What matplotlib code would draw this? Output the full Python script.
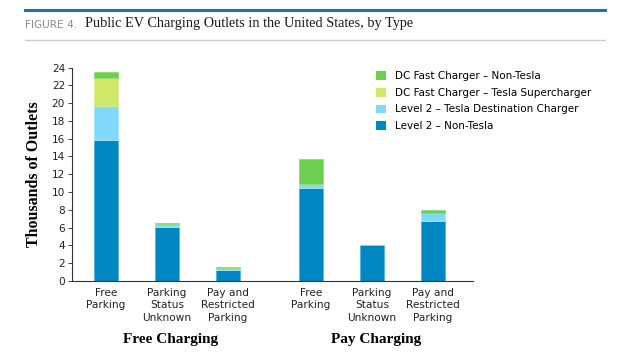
import matplotlib
matplotlib.use("Agg")
import matplotlib.pyplot as plt
import numpy as np

categories = ["Free\nParking", "Parking\nStatus\nUnknown", "Pay and\nRestricted\nParking",
              "Free\nParking", "Parking\nStatus\nUnknown", "Pay and\nRestricted\nParking"]
groups = ["Free Charging", "Pay Charging"]
level2_non_tesla = [15.8, 6.1, 1.2, 10.4, 4.0, 6.7]
level2_tesla_dest = [3.9, 0.3, 0.25, 0.5, 0.0, 1.0]
dc_tesla_super = [3.1, 0.0, 0.0, 0.0, 0.0, 0.0]
dc_non_tesla = [0.7, 0.1, 0.1, 2.8, 0.1, 0.3]
series_names = ["Level 2 – Non-Tesla", "Level 2 – Tesla Destination Charger",
                "DC Fast Charger – Tesla Supercharger", "DC Fast Charger – Non-Tesla"]
series = [level2_non_tesla, level2_tesla_dest, dc_tesla_super, dc_non_tesla]
colors = ["#0086c0", "#80d8fa", "#cfe868", "#6ccf4f"]
edges = ["#4fb6e0", "#a8e6fc", "#dcef90", "#8fdc78"]
yticks = list(range(0, 25, 2))

SANS = "DejaVu Sans"
SERIF = "Liberation Serif"

fig = plt.figure(figsize=(6.2, 3.57), dpi=100)
ax = fig.add_axes([72/620, 1-281/357, (473-72)/620, (281-67.5)/357])

x = np.array([0, 1, 2, 3.36, 4.36, 5.36])
bottom = np.zeros(len(x))
handles = []
for vals, c, e, name in zip(series, colors, edges, series_names):
    b = ax.bar(x, vals, width=0.39, bottom=bottom, color=c, edgecolor=e, linewidth=0.6, label=name)
    handles.append(b)
    bottom += np.array(vals)

ax.set_xlim(-0.56, 6.02)
ax.set_ylim(0, 24)
ax.set_yticks(yticks)
ax.set_xticks(x)
ax.set_xticklabels(categories, fontsize=7.6, family=SANS, color="#222222", linespacing=1.3)
ax.tick_params(axis="x", length=0, pad=5)
ax.tick_params(axis="y", length=3, width=0.6, labelsize=7.6, pad=2, colors="#222222")
for lbl in ax.get_yticklabels():
    lbl.set_family(SANS)
for s in ["top", "right"]:
    ax.spines[s].set_visible(False)
for s in ["left", "bottom"]:
    ax.spines[s].set_linewidth(0.8)
    ax.spines[s].set_color("#333333")

ax.set_ylabel("Thousands of Outlets", family=SERIF, fontweight="bold", fontsize=11.5, labelpad=7)

leg = fig.legend(handles[::-1], [h.get_label() for h in handles[::-1]],
                 loc="upper left", bbox_to_anchor=(372/620, 1-67/357), frameon=False,
                 prop={"family": SANS, "size": 7.5}, handlelength=0.9, handleheight=0.9,
                 handletextpad=0.9, labelspacing=0.64, borderaxespad=0)
for h in leg.legend_handles:
    h.set_edgecolor("none")

fig.text(171/620, 1-339/357, groups[0], ha="center", va="center", family=SERIF,
         fontweight="bold", fontsize=11)
fig.text(376/620, 1-339/357, groups[1], ha="center", va="center", family=SERIF,
         fontweight="bold", fontsize=11)

# header
fig.add_artist(plt.Line2D([25/620, 605/620], [1-10/357, 1-10/357], color="#1b75b3", linewidth=2.2))
fig.add_artist(plt.Line2D([25/620, 605/620], [1-40/357, 1-40/357], color="#cccccc", linewidth=1.0))
fig.text(25/620, 1-24.5/357, "FIGURE 4.", family=SANS, fontsize=7.6, color="#8a8a8a", va="center")
fig.text(85/620, 1-24/357, "Public EV Charging Outlets in the United States, by Type",
         family=SERIF, fontsize=10.3, color="#1a1a1a", va="center")

fig.savefig("out.png", dpi=100)
